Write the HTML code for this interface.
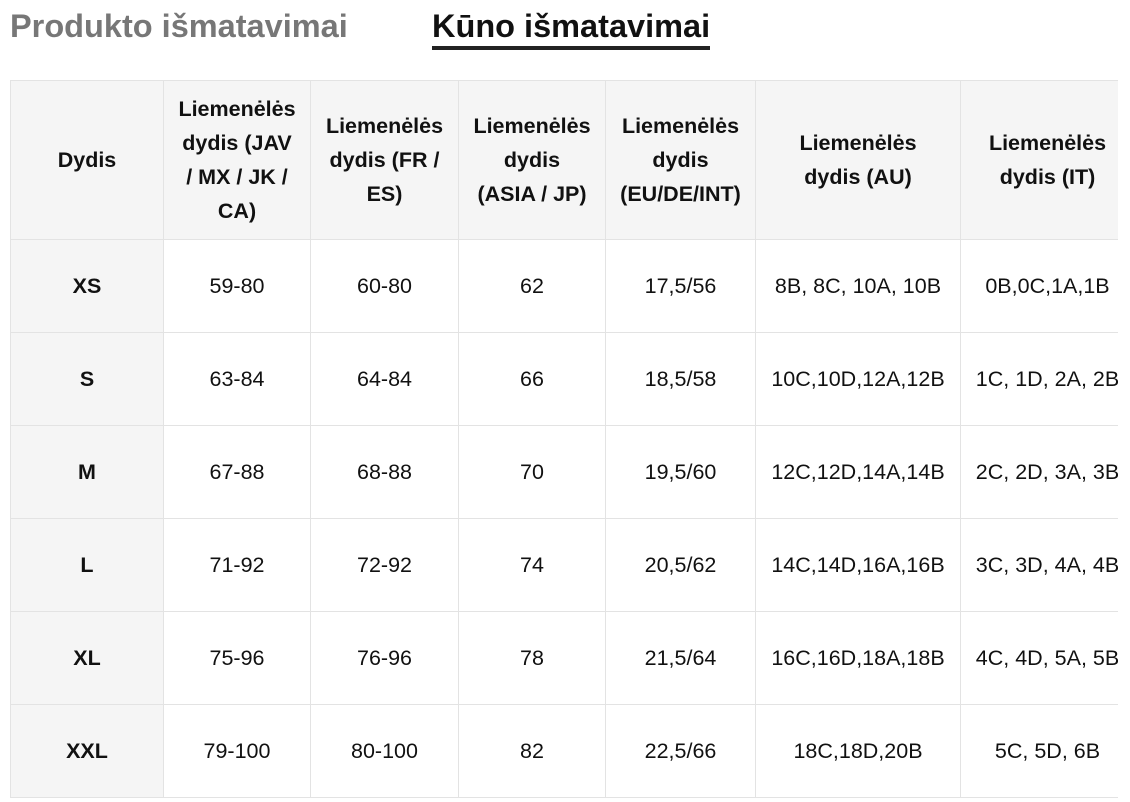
<!DOCTYPE html>
<html><head><meta charset="utf-8"><style>
body{margin:0;width:1130px;height:802px;background:#fff;font-family:"Liberation Sans",Arial,sans-serif;overflow:hidden;position:relative}
.t1{position:absolute;left:10px;top:8px;font-size:32.5px;font-weight:bold;color:#777}
.t2{position:absolute;left:432px;top:8px;font-size:32.5px;font-weight:bold;color:#111}
.ul{position:absolute;left:432px;top:46px;width:278px;height:4px;background:#222}
.wrap{position:absolute;left:10px;top:80px;width:1108px;overflow:hidden}
table{border-collapse:collapse;table-layout:fixed;width:1124px}
td,th{border:1px solid #e3e3e3;text-align:center;font-size:21.5px;color:#111;padding:0;box-sizing:border-box;white-space:nowrap}
th{font-weight:bold;height:159px;line-height:34px;background:#f5f5f5}
td{height:93px}
td:first-child{background:#f5f5f5;font-weight:bold}
</style></head><body>
<div class="t1">Produkto išmatavimai</div>
<div class="t2">Kūno išmatavimai</div>
<div class="ul"></div>
<div class="wrap"><table>
<colgroup><col style="width:153px"><col style="width:147px"><col style="width:148px"><col style="width:147px"><col style="width:150px"><col style="width:205px"><col style="width:174px"></colgroup>
<tr><th>Dydis</th><th>Liemenėlės<br>dydis (JAV<br>/ MX / JK /<br>CA)</th><th>Liemenėlės<br>dydis (FR /<br>ES)</th><th>Liemenėlės<br>dydis<br>(ASIA / JP)</th><th>Liemenėlės<br>dydis<br>(EU/DE/INT)</th><th>Liemenėlės<br>dydis (AU)</th><th>Liemenėlės<br>dydis (IT)</th></tr>
<tr><td>XS</td><td>59-80</td><td>60-80</td><td>62</td><td>17,5/56</td><td>8B, 8C, 10A, 10B</td><td>0B,0C,1A,1B</td></tr>
<tr><td>S</td><td>63-84</td><td>64-84</td><td>66</td><td>18,5/58</td><td>10C,10D,12A,12B</td><td>1C, 1D, 2A, 2B</td></tr>
<tr><td>M</td><td>67-88</td><td>68-88</td><td>70</td><td>19,5/60</td><td>12C,12D,14A,14B</td><td>2C, 2D, 3A, 3B</td></tr>
<tr><td>L</td><td>71-92</td><td>72-92</td><td>74</td><td>20,5/62</td><td>14C,14D,16A,16B</td><td>3C, 3D, 4A, 4B</td></tr>
<tr><td>XL</td><td>75-96</td><td>76-96</td><td>78</td><td>21,5/64</td><td>16C,16D,18A,18B</td><td>4C, 4D, 5A, 5B</td></tr>
<tr><td>XXL</td><td>79-100</td><td>80-100</td><td>82</td><td>22,5/66</td><td>18C,18D,20B</td><td>5C, 5D, 6B</td></tr>
</table></div>
</body></html>
